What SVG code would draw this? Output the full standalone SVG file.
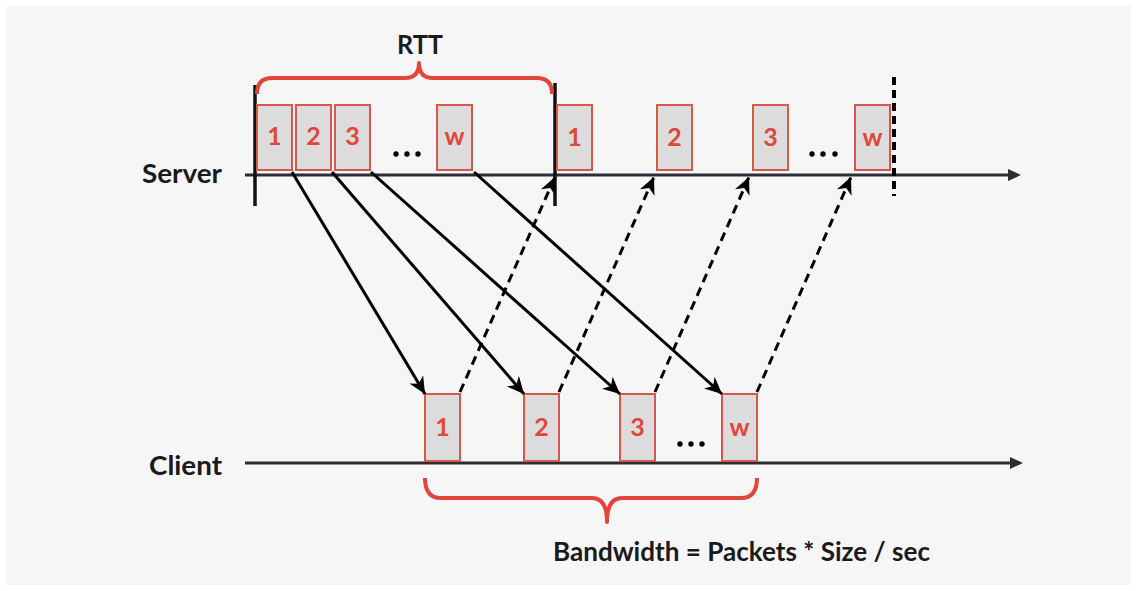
<svg xmlns="http://www.w3.org/2000/svg" width="1137" height="591" viewBox="0 0 1137 591">
  <style>
    .label { font-family: Lato, "Open Sans", "Liberation Sans", sans-serif; font-weight: bold; fill: #1a1a1a; }
    .pkt rect { fill: #dcdcdd; stroke: #d9564a; stroke-width: 2; }
    .pkt text { font-family: Lato, "Open Sans", "Liberation Sans", sans-serif; font-weight: bold; font-size: 25px; fill: #e0473a; text-anchor: middle; }
    .axis { stroke: #2b2e36; stroke-width: 3; fill: none; }
    .bar { stroke: #111; stroke-width: 3.5; fill: none; }
    .brace { stroke: #e0473a; stroke-width: 4; fill: none; stroke-linejoin: round; }
    .send { stroke: #000; stroke-width: 3; fill: none; }
    .ack { stroke: #000; stroke-width: 3; fill: none; stroke-dasharray: 9 6; }
    .dot { fill: #000; }
  </style>
  <defs>
    <marker id="head" markerUnits="userSpaceOnUse" markerWidth="18" markerHeight="16" refX="17" refY="8" orient="auto">
      <path d="M0,0 L17,8 L0,16 L5,8 z" fill="#000"/>
    </marker>
    <marker id="axisHead" markerUnits="userSpaceOnUse" markerWidth="14" markerHeight="14" refX="1" refY="7" orient="auto">
      <path d="M0,1 L13,7 L0,13 z" fill="#2b2e36"/>
    </marker>
  </defs>

  <!-- panel -->
  <rect x="0" y="0" width="1137" height="591" fill="#ffffff"/>
  <rect x="6" y="6" width="1125" height="579" fill="#f6f6f6"/>

  <!-- timelines -->
  <g id="server">
    <line class="axis" x1="245" y1="175" x2="1009" y2="175" marker-end="url(#axisHead)"/>
    <text class="label" x="142" y="183" font-size="27" textLength="80" lengthAdjust="spacingAndGlyphs">Server</text>
  </g>
  <g id="client">
    <line class="axis" x1="245" y1="463" x2="1011" y2="463" marker-end="url(#axisHead)"/>
    <text class="label" x="149" y="475" font-size="27" textLength="73" lengthAdjust="spacingAndGlyphs">Client</text>
  </g>

  <!-- RTT window markers -->
  <g id="rtt">
    <line class="bar" x1="255" y1="85" x2="255" y2="206"/>
    <line class="bar" x1="555" y1="83" x2="555" y2="206"/>
    <line x1="894" y1="77" x2="894" y2="196" stroke="#000" stroke-width="4" stroke-dasharray="8 5"/>
    <path class="brace" d="M257,94 Q257,78 272,78 L405,78 Q419,78 419,63 Q419,78 433,78 L537,78 Q552,78 552,94"/>
    <text class="label" x="397" y="54" font-size="26" textLength="46" lengthAdjust="spacingAndGlyphs">RTT</text>
  </g>

  <!-- server window, first round -->
  <g id="s1" class="pkt"><rect x="257" y="105" width="35" height="65"/><text x="274.5" y="145">1</text></g>
  <g id="s2" class="pkt"><rect x="296" y="105" width="35" height="65"/><text x="313.5" y="145">2</text></g>
  <g id="s3" class="pkt"><rect x="335" y="105" width="35" height="65"/><text x="352.5" y="145">3</text></g>
  <g id="sdots1"><circle class="dot" cx="396" cy="154" r="2.7"/><circle class="dot" cx="407" cy="154" r="2.7"/><circle class="dot" cx="418" cy="154" r="2.7"/></g>
  <g id="sw" class="pkt"><rect x="437" y="105" width="35" height="65"/><text x="454.5" y="145">w</text></g>

  <!-- server window, second round -->
  <g id="t1" class="pkt"><rect x="557" y="105" width="35" height="65"/><text x="574.5" y="146">1</text></g>
  <g id="t2" class="pkt"><rect x="657" y="105" width="35" height="65"/><text x="674.5" y="146">2</text></g>
  <g id="t3" class="pkt"><rect x="753" y="105" width="35" height="65"/><text x="770.5" y="146">3</text></g>
  <g id="sdots2"><circle class="dot" cx="812" cy="154" r="2.7"/><circle class="dot" cx="823" cy="154" r="2.7"/><circle class="dot" cx="835" cy="154" r="2.7"/></g>
  <g id="tw" class="pkt"><rect x="855" y="105" width="35" height="65"/><text x="872.5" y="146">w</text></g>

  <!-- client received packets -->
  <g id="c1" class="pkt"><rect x="425" y="394" width="35" height="67"/><text x="442.5" y="436">1</text></g>
  <g id="c2" class="pkt"><rect x="524" y="394" width="35" height="67"/><text x="541.5" y="436">2</text></g>
  <g id="c3" class="pkt"><rect x="620" y="394" width="35" height="67"/><text x="637.5" y="436">3</text></g>
  <g id="cdots"><circle class="dot" cx="680" cy="444" r="2.7"/><circle class="dot" cx="691" cy="444" r="2.7"/><circle class="dot" cx="702" cy="444" r="2.7"/></g>
  <g id="cw" class="pkt"><rect x="722" y="394" width="35" height="67"/><text x="739.5" y="436">w</text></g>

  <!-- bandwidth brace and formula -->
  <g id="bandwidth">
    <path class="brace" d="M425,478 Q425,498 441,498 L592,498 Q607,498 607,522 Q607,498 622,498 L741,498 Q757,498 757,478"/>
    <text class="label" x="553" y="561" font-size="27" textLength="377" lengthAdjust="spacingAndGlyphs">Bandwidth = Packets * Size / sec</text>
  </g>

  <!-- connectors -->
  <g id="connectors">
    <line class="send" x1="292" y1="172" x2="425" y2="394" marker-end="url(#head)"/>
    <line class="send" x1="332" y1="172" x2="524" y2="394" marker-end="url(#head)"/>
    <line class="send" x1="371" y1="172" x2="620" y2="394" marker-end="url(#head)"/>
    <line class="send" x1="474" y1="172" x2="722" y2="394" marker-end="url(#head)"/>
    <line class="ack" x1="460" y1="392" x2="555" y2="177" marker-end="url(#head)"/>
    <line class="ack" x1="559" y1="392" x2="654" y2="177" marker-end="url(#head)"/>
    <line class="ack" x1="655" y1="392" x2="749" y2="177" marker-end="url(#head)"/>
    <line class="ack" x1="757" y1="392" x2="851" y2="177" marker-end="url(#head)"/>
  </g>
</svg>
